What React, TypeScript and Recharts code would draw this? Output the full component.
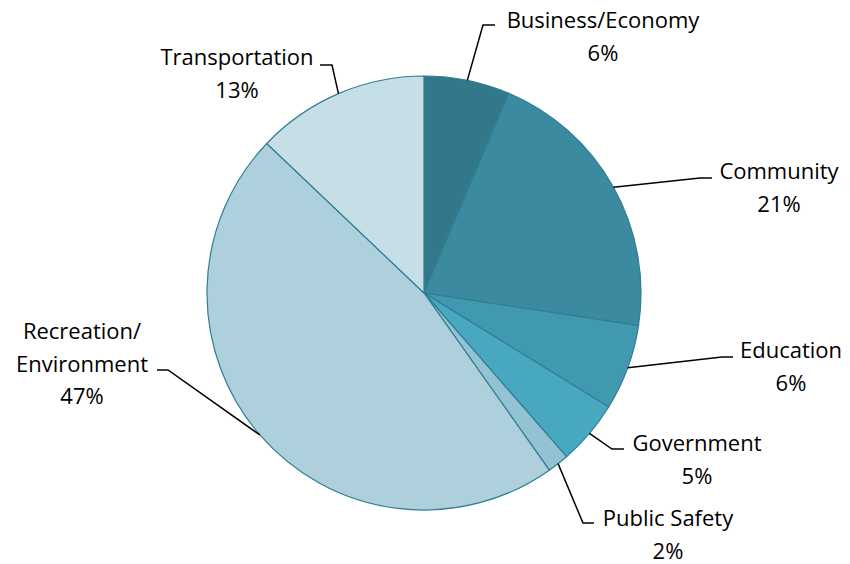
import { PieChart, Pie, Cell } from 'recharts';

const categories = [
  'Business/Economy',
  'Community',
  'Education',
  'Government',
  'Public Safety',
  'Recreation/ Environment',
  'Transportation',
];
const shares = [6.4, 21.0, 6.4, 4.8, 1.6, 46.9, 12.9];
const colors = ['#33788a', '#3b8a9f', '#4199b0', '#48a8c0', '#93c3d2', '#aecfdc', '#c6dee6'];

// label placement, offsets from the pie centre: elbow, line end, text centre, first line y
const labelLayout = [
  { ex: 59, ey: -268, lx: 71, tx: 179, ty: -274 },
  { ex: 276, ey: -115, lx: 288, tx: 355, ty: -123 },
  { ex: 298, ey: 64, lx: 309, tx: 367, ty: 56 },
  { ex: 188, ey: 156, lx: 200, tx: 273, ty: 149 },
  { ex: 159, ey: 230, lx: 170, tx: 244, ty: 224 },
  { ex: -256, ey: 77, lx: -267, tx: -342, ty: 37 },
  { ex: -92, ey: -228, lx: -104, tx: -187, ty: -237 },
];

const data = categories.map((name, i) => ({ name, value: shares[i] }));

const RAD = Math.PI / 180;
const LINE_H = 32.5;

function renderLabel(props: any) {
  const { cx, cy, midAngle, outerRadius, percent, index, name } = props;
  const lay = labelLayout[index];
  const sx = cx + outerRadius * Math.cos(-midAngle * RAD);
  const sy = cy + outerRadius * Math.sin(-midAngle * RAD);
  const lines = String(name).split(/(?<=\/) /);
  lines.push(`${Math.round(percent * 100)}%`);
  return (
    <g key={`lbl-${index}`}>
      <path
        d={`M${sx},${sy}L${cx + lay.ex},${cy + lay.ey}L${cx + lay.lx},${cy + lay.ey}`}
        stroke="#000"
        strokeWidth={1.5}
        fill="none"
      />
      {lines.map((t, j) => (
        <text
          key={j}
          x={cx + lay.tx}
          y={cy + lay.ty + j * LINE_H}
          textAnchor="middle"
          dominantBaseline="central"
          fill="#000"
          fontSize={22}
          fontFamily="'Open Sans', 'Noto Sans', sans-serif"
        >
          {t}
        </text>
      ))}
    </g>
  );
}

export default function App() {
  return (
    <div style={{ position: 'absolute', left: 0, top: 0, background: '#fff' }}>
      <PieChart width={850} height={564} margin={{ top: 0, right: 0, bottom: 0, left: 0 }}>
        <Pie
          data={data}
          dataKey="value"
          nameKey="name"
          cx={424}
          cy={293}
          outerRadius={217}
          startAngle={90}
          endAngle={-270}
          stroke="#2f7f94"
          strokeWidth={1.2}
          label={renderLabel}
          labelLine={false}
          isAnimationActive={false}
        >
          {data.map((d, i) => (
            <Cell key={d.name} fill={colors[i]} />
          ))}
        </Pie>
      </PieChart>
    </div>
  );
}
